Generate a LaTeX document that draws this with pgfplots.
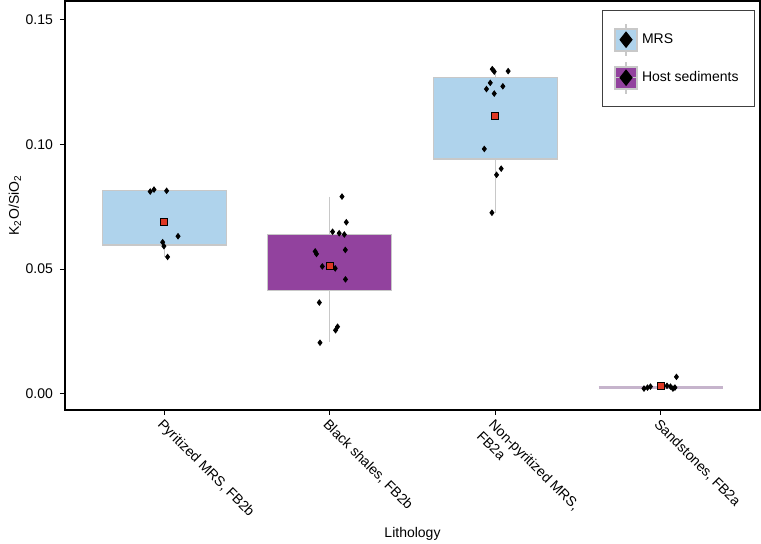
\documentclass[border=0pt]{standalone}
\usepackage{fontspec}
\setmainfont{Liberation Sans}
\usepackage{pgfplots}
\pgfplotsset{compat=1.18}
\usetikzlibrary{calc}
\definecolor{mrsblue}{RGB}{175,211,236}
\definecolor{hostpurple}{RGB}{146,66,158}
\definecolor{boxline}{RGB}{200,200,200}
\definecolor{flatline}{RGB}{198,180,204}
\definecolor{meanred}{RGB}{222,56,36}
\newcommand{\fs}{\fontsize{7pt}{8.4pt}\selectfont}
\begin{document}
\begin{tikzpicture}
\begin{axis}[name=ax, scale only axis, width=347.5pt, height=204.5pt,
  xmin=0.4, xmax=4.6, ymin=-0.0064, ymax=0.1576,
  axis line style={line width=1pt, black},
  tick align=outside, tick pos=left,
  major tick length=2.5pt, tick style={black, line width=0.6pt},
  xtick={1,2,3,4},
  xticklabels={{Pyritized MRS, FB2b},{Black shales, FB2b},{Non-pyritized MRS,\\FB2a},{Sandstones, FB2a}},
  xticklabel style={font=\fs, rotate=-45, anchor=north west, align=left, inner sep=1pt},
  ytick={0,0.05,0.1,0.15},
  yticklabel style={font=\fs, /pgf/number format/fixed, /pgf/number format/precision=2, /pgf/number format/fixed zerofill},
  /pgf/number format/assume math mode=true,
  scaled y ticks=false,
  ylabel={K\textsubscript{2}O/SiO\textsubscript{2}},
  xlabel={Lithology},
  every axis y label/.style={at={(axis description cs:-0.072,0.5)}, rotate=90, anchor=center, font=\fs},
  every axis x label/.style={at={(axis description cs:0.5,-0.303)}, anchor=center, font=\fs},
  legend style={at={(rel axis cs:0.772,0.977)}, anchor=north west, draw=black!75, line width=0.5pt, fill=white, inner xsep=6pt, inner ysep=6pt, row sep=2pt, font=\fs},
  legend cell align=left,
]
\addlegendimage{legend image code/.code={
  \draw[boxline, line width=1pt] (0.2cm,-8pt) -- (0.2cm,8pt);
  \draw[boxline, line width=1pt, fill=mrsblue] (0.2cm-5.5pt,-5.5pt) rectangle (0.2cm+5.5pt,5.5pt);
  \fill[black] (0.2cm,-3.8pt) -- (0.2cm+3pt,0pt) -- (0.2cm,3.8pt) -- (0.2cm-3pt,0pt) -- cycle;
}}
\addlegendentry{MRS}
\addlegendimage{legend image code/.code={
  \draw[boxline, line width=1pt] (0.2cm,-8pt) -- (0.2cm,8pt);
  \draw[boxline, line width=1pt, fill=hostpurple] (0.2cm-5.5pt,-5.5pt) rectangle (0.2cm+5.5pt,5.5pt);
  \draw[boxline, line width=0.5pt] (0.2cm-5.5pt,0pt) -- (0.2cm+5.5pt,0pt);
  \fill[black] (0.2cm,-3.8pt) -- (0.2cm+3pt,0pt) -- (0.2cm,3.8pt) -- (0.2cm-3pt,0pt) -- cycle;
}}
\addlegendentry{Host sediments}

% whiskers
\addplot[forget plot, boxline, line width=0.7pt] coordinates {(1,0.0597) (1,0.0549)};
\addplot[forget plot, boxline, line width=0.7pt] coordinates {(2,0.0791) (2,0.0206)};
\addplot[forget plot, boxline, line width=0.7pt] coordinates {(3,0.1302) (3,0.0726)};
% boxes
\addplot[forget plot, fill=mrsblue, draw=boxline, line width=0.6pt] coordinates {(0.625,0.0597) (1.375,0.0597) (1.375,0.0814) (0.625,0.0814)} -- cycle;
\addplot[forget plot, fill=hostpurple, draw=boxline, line width=0.6pt] coordinates {(1.625,0.0413) (2.375,0.0413) (2.375,0.0640) (1.625,0.0640)} -- cycle;
\addplot[forget plot, fill=mrsblue, draw=boxline, line width=0.6pt] coordinates {(2.625,0.0942) (3.375,0.0942) (3.375,0.1268) (2.625,0.1268)} -- cycle;
\addplot[forget plot, flatline, line width=1.1pt] coordinates {(3.625,0.0025) (4.375,0.0025)};

% data points
\addplot[forget plot, only marks, mark=diamond*, mark size=1.35pt, black] coordinates {
(0.915,0.0811) (0.938,0.0819) (1.014,0.0814) (1.083,0.0632) (0.990,0.0608) (0.998,0.0592) (1.020,0.0549)
(2.074,0.0791) (2.100,0.0688) (2.017,0.0650) (2.057,0.0644) (2.088,0.0639) (1.912,0.0571) (1.920,0.0561)
(2.094,0.0577) (1.955,0.0511) (2.033,0.0503) (2.095,0.0459) (1.937,0.0366) (2.047,0.0269) (2.035,0.0255) (1.941,0.0205)
(2.982,0.1302) (2.994,0.1292) (3.078,0.1294) (2.970,0.1247) (3.046,0.1233) (2.947,0.1222) (2.994,0.1204)
(2.934,0.0982) (3.036,0.0903) (3.008,0.0878) (2.980,0.0726)
(3.899,0.0021) (3.920,0.0025) (3.938,0.0029) (4.038,0.0032) (4.059,0.0029) (4.074,0.0021) (4.086,0.0025) (4.095,0.0068)
};
% means
\addplot[forget plot, only marks, mark=square*, mark size=1.8pt, mark options={fill=meanred, draw=black, line width=0.4pt}] coordinates {
(1,0.0690) (2,0.0513) (3,0.1116) (4,0.0032)};
\end{axis}
\pgfresetboundingbox
\path[use as bounding box] ($(ax.south west)+(-32.5pt,-67pt)$) rectangle ($(ax.north east)+(0.5pt,0.4pt)$);
\end{tikzpicture}
\end{document}
